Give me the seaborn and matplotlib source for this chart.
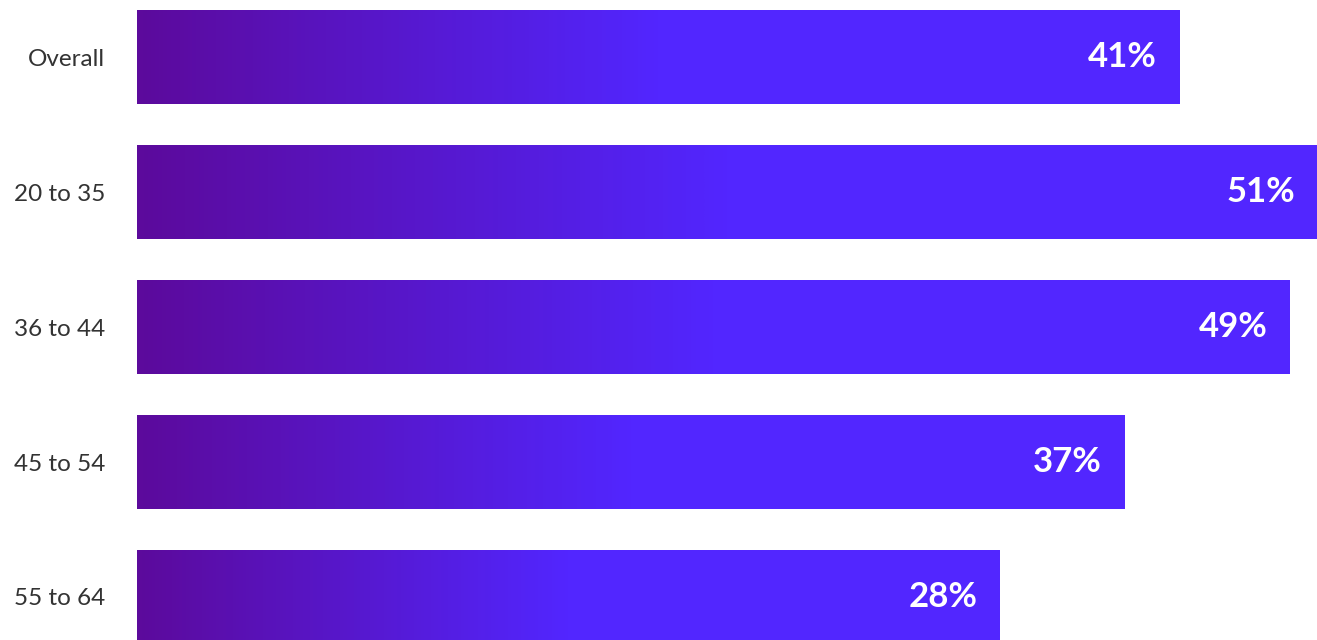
import matplotlib
matplotlib.use("Agg")
import matplotlib.pyplot as plt
import numpy as np
import seaborn as sns
from matplotlib.colors import LinearSegmentedColormap

categories = ["Overall", "20 to 35", "36 to 44", "45 to 54", "55 to 64"]
values = [41, 51, 49, 37, 28]
value_labels = ["41%", "51%", "49%", "37%", "28%"]

BASE = 34.6  # bars drawn from a baseline below zero, as in the reference scale

sns.set_theme(style="white")
plt.rcParams["font.family"] = ["Lato", "DejaVu Sans"]

fig = plt.figure(figsize=(13.17, 6.40), dpi=100)
ax = fig.add_axes([137 / 1317, 0, 1 - 137 / 1317, 1])

plot_vals = [v + BASE for v in values]
sns.barplot(x=plot_vals, y=categories, orient="h", width=0.7, ax=ax,
            color="#5226FF", saturation=1)

cmap = LinearSegmentedColormap.from_list(
    "g", [(0, "#5C0A9C"), (0.5, "#5226FF"), (1, "#5226FF")])
for p, lab in zip(ax.patches, value_labels):
    x0, y0 = p.get_x(), p.get_y()
    w, h = p.get_width(), p.get_height()
    p.set_facecolor("none")
    p.set_edgecolor("none")
    grad = np.linspace(0, 1, 256).reshape(1, -1)
    im = ax.imshow(grad, cmap=cmap, aspect="auto",
                   extent=(x0, x0 + w, y0 + h, y0), zorder=1,
                   interpolation="bicubic")
    im.set_clip_path(p)
    xe = x0 + w - 22 / 13.79
    ax.text(xe, y0 + h / 2, lab, ha="right", va="center", color="white",
            fontsize=25, fontweight="bold", zorder=3)

ax.set_xlim(0, 51 + BASE)
ax.set_ylim(4.319, -0.424)
ax.set_xlabel("")
ax.set_ylabel("")
ax.set_xticks([])
ax.tick_params(axis="y", length=0, pad=23, labelsize=17.5, labelcolor="#333333")
for s in ax.spines.values():
    s.set_visible(False)

fig.savefig("out.png", dpi=100)
